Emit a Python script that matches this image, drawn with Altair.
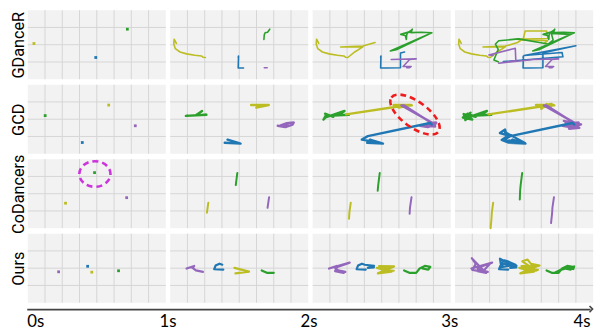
import json
import pandas as pd
import altair as alt

# ---------------- data (grid units inside a panel: x 0..8, y 0..4 measured downward) ----
methods = ["GDanceR", "GCD", "CoDancers", "Ours"]
dancers = ["blue", "yellow", "green", "purple"]
time_labels = ["0s", "1s", "2s", "3s", "4s"]

# starting positions shown in the first (0s) column
gdancer_start_dancer = ["yellow", "green", "blue"]
gdancer_start_x = [0.36, 5.77, 3.94]
gdancer_start_y = [1.93, 1.10, 2.74]

gcd_start_dancer = ["green", "yellow", "purple", "blue"]
gcd_start_x = [1.01, 4.69, 6.23, 3.16]
gcd_start_y = [1.79, 1.18, 2.38, 3.35]

codancers_start_dancer = ["green", "purple", "yellow"]
codancers_start_x = [3.87, 5.73, 2.19]
codancers_start_y = [0.78, 2.23, 2.55]

ours_start_dancer = ["blue", "yellow", "purple", "green"]
ours_start_x = [3.47, 3.71, 1.79, 5.26]
ours_start_y = [1.89, 2.23, 2.21, 2.15]

# trajectories; *_n = number of points drawn at 1s, 2s, 3s
gdancer_yellow_x = [0.36, 0.23, 0.21, 0.30, 0.57, 0.95, 1.43, 1.81, 1.90, 2.04, 2.44, 2.91, 1.62, 2.91, 3.62, 3.96, 4.06, 5.30, 5.39, 3.49, 5.35, 5.20]
gdancer_yellow_y = [1.92, 1.68, 1.96, 2.23, 2.42, 2.53, 2.61, 2.65, 2.72, 2.74, 2.42, 2.12, 2.13, 2.08, 1.87, 1.64, 1.20, 1.20, 1.64, 1.68, 1.77, 1.89]
gdancer_yellow_n = [10, 15, 22]
gdancer_green_x = [5.77, 5.64, 5.50, 5.45, 5.43, 5.37, 5.10, 5.55, 5.77, 5.70, 6.30, 6.91, 4.50, 4.91, 6.72, 5.58, 5.68, 5.39, 3.68, 2.53, 2.34, 2.50, 2.25, 2.50]
gdancer_green_y = [1.10, 1.28, 1.31, 1.43, 1.70, 1.47, 1.40, 1.27, 1.12, 1.30, 1.28, 1.31, 2.36, 2.27, 1.40, 1.35, 1.73, 1.96, 1.66, 1.77, 1.96, 2.27, 2.88, 2.99]
gdancer_green_n = [5, 15, 24]
gdancer_blue_x = [3.94, 3.96, 3.94, 4.25, 5.09, 5.09, 5.33, 7.00, 4.00, 6.20, 6.25, 2.80]
gdancer_blue_y = [2.74, 2.65, 3.35, 3.35, 3.33, 2.48, 2.42, 2.06, 2.62, 2.45, 2.70, 2.98]
gdancer_blue_n = [4, 7, 12]
gdancer_purple_x = [5.45, 5.62, 5.71, 5.24, 5.62, 6.00, 4.55, 2.53, 3.52, 3.49, 1.96, 2.20]
gdancer_purple_y = [3.33, 3.33, 3.26, 3.26, 2.86, 2.82, 2.86, 3.07, 2.92, 2.21, 2.59, 2.62]
gdancer_purple_n = [2, 7, 12]

gcd_green_x = [1.01, 0.91, 2.10, 1.49, 1.85, 0.75, 0.63, 0.80, 0.72, 1.20, 0.50, 0.60, 0.90, 0.45, 1.00, 0.70]
gcd_green_y = [1.79, 1.81, 1.74, 1.77, 1.52, 1.90, 2.02, 1.72, 1.68, 1.86, 1.70, 2.05, 1.62, 1.90, 2.02, 1.75]
gcd_green_n = [5, 10, 16]
gcd_yellow_x = [4.69, 5.71, 4.99, 5.24, 1.94, 5.20, 5.75, 5.10, 5.00, 5.30, 5.50, 5.60, 4.80]
gcd_yellow_y = [1.18, 1.18, 1.33, 1.22, 1.72, 1.23, 1.20, 1.26, 1.40, 1.12, 1.38, 1.12, 1.25]
gcd_yellow_n = [4, 8, 13]
gcd_purple_x = [6.23, 6.67, 7.09, 7.16, 6.76, 6.40, 6.86, 7.00, 5.15, 5.30, 7.05, 6.50, 7.10, 6.80, 6.30, 7.30, 6.60, 7.20, 6.40]
gcd_purple_y = [2.38, 2.46, 2.32, 2.19, 2.23, 2.36, 2.36, 2.25, 1.20, 1.20, 2.32, 2.36, 2.42, 2.20, 2.10, 2.30, 2.55, 2.50, 2.20]
gcd_purple_n = [7, 14, 19]
gcd_blue_x = [3.16, 4.08, 3.32, 4.00, 2.85, 3.20, 6.80, 6.90, 6.80, 3.20, 2.60, 2.90, 3.00, 2.70, 3.10, 4.05, 2.90]
gcd_blue_y = [3.36, 3.41, 3.18, 3.38, 3.18, 2.98, 2.22, 2.30, 2.22, 2.98, 2.80, 2.60, 3.00, 3.20, 3.35, 3.38, 2.75]
gcd_blue_n = [4, 8, 17]

codancers_green_x = [3.89, 3.80, 3.77, 3.75]
codancers_green_y = [0.80, 1.50, 1.83, 2.34]
codancers_green_n = [2, 3, 4]
codancers_yellow_x = [2.21, 2.13, 2.11, 2.06]
codancers_yellow_y = [2.52, 3.10, 3.45, 4.00]
codancers_yellow_n = [2, 3, 4]
codancers_purple_x = [5.73, 5.64, 5.62, 5.56]
codancers_purple_y = [2.20, 2.82, 3.16, 3.70]
codancers_purple_n = [2, 3, 4]

ours_purple_x = [1.90, 1.49, 1.30, 1.39, 0.95, 2.15, 1.40, 1.30, 1.80, 0.97, 1.20, 1.00, 1.60, 2.05]
ours_purple_y = [2.21, 2.13, 1.98, 1.87, 2.02, 1.68, 1.95, 2.17, 2.28, 1.42, 1.75, 2.10, 2.20, 1.72]
ours_purple_n = [5, 9, 14]
ours_blue_x = [3.08, 2.55, 2.63, 2.86, 3.02, 3.56, 3.20, 3.55, 2.60, 2.65, 2.85, 3.10, 3.50, 2.60]
ours_blue_y = [2.08, 2.06, 1.85, 1.74, 1.80, 1.87, 1.98, 1.96, 1.45, 1.75, 1.55, 1.62, 1.80, 1.95]
ours_blue_n = [5, 8, 14]
ours_yellow_x = [3.72, 4.57, 3.78, 4.72, 3.85, 4.35, 4.00, 4.70, 3.90, 4.20, 4.40, 4.90, 3.95, 4.80]
ours_yellow_y = [1.98, 2.20, 2.30, 1.90, 1.88, 2.00, 2.10, 2.15, 1.60, 1.50, 1.75, 1.85, 2.00, 2.10]
ours_yellow_n = [3, 8, 14]
ours_green_x = [5.30, 5.60, 6.00, 6.20, 6.50, 6.82, 6.70, 6.35, 6.60, 6.90, 6.85, 6.50, 6.10, 5.80]
ours_green_y = [2.13, 2.27, 2.27, 2.02, 1.87, 1.92, 2.08, 2.02, 1.95, 1.90, 2.05, 2.00, 2.10, 2.25]
ours_green_n = [3, 8, 14]

# highlighted regions (dashed ellipses)
highlight_method = ["GCD", "CoDancers"]
highlight_col = [2, 0]
highlight_x = [5.93, 3.89]
highlight_y = [1.73, 0.86]

# ---------------- styles / layout ----------------
dancer_colors = ["#1f77b4", "#bcbd22", "#2ca02c", "#9467bd"]
line_width = {"GDanceR": 1.6, "GCD": 2.4, "CoDancers": 2.0, "Ours": 2.2}
PX = 17.5              # pixels per grid unit
COL_PITCH = 8.25
ROW_PITCH = 4.314
X_MIN, X_MAX = -0.057, 32.571
Y_MIN, Y_MAX = -0.371, 3 * ROW_PITCH + 4
W = round((X_MAX - X_MIN) * PX)
H = round((Y_MAX - Y_MIN) * PX)

starts = {
    "GDanceR": (gdancer_start_dancer, gdancer_start_x, gdancer_start_y),
    "GCD": (gcd_start_dancer, gcd_start_x, gcd_start_y),
    "CoDancers": (codancers_start_dancer, codancers_start_x, codancers_start_y),
    "Ours": (ours_start_dancer, ours_start_x, ours_start_y),
}
tracks = {
    ("GDanceR", "yellow"): (gdancer_yellow_x, gdancer_yellow_y, gdancer_yellow_n),
    ("GDanceR", "green"): (gdancer_green_x, gdancer_green_y, gdancer_green_n),
    ("GDanceR", "blue"): (gdancer_blue_x, gdancer_blue_y, gdancer_blue_n),
    ("GDanceR", "purple"): (gdancer_purple_x, gdancer_purple_y, gdancer_purple_n),
    ("GCD", "green"): (gcd_green_x, gcd_green_y, gcd_green_n),
    ("GCD", "yellow"): (gcd_yellow_x, gcd_yellow_y, gcd_yellow_n),
    ("GCD", "purple"): (gcd_purple_x, gcd_purple_y, gcd_purple_n),
    ("GCD", "blue"): (gcd_blue_x, gcd_blue_y, gcd_blue_n),
    ("CoDancers", "green"): (codancers_green_x, codancers_green_y, codancers_green_n),
    ("CoDancers", "yellow"): (codancers_yellow_x, codancers_yellow_y, codancers_yellow_n),
    ("CoDancers", "purple"): (codancers_purple_x, codancers_purple_y, codancers_purple_n),
    ("Ours", "purple"): (ours_purple_x, ours_purple_y, ours_purple_n),
    ("Ours", "blue"): (ours_blue_x, ours_blue_y, ours_blue_n),
    ("Ours", "yellow"): (ours_yellow_x, ours_yellow_y, ours_yellow_n),
    ("Ours", "green"): (ours_green_x, ours_green_y, ours_green_n),
}


def origin(r, c):
    return c * COL_PITCH, (3 - r) * ROW_PITCH


panel_rows, grid_rows, dot_rows, line_rows = [], [], [], []
for r, m in enumerate(methods):
    for c in range(4):
        x0, y0 = origin(r, c)
        panel_rows.append({"X": x0, "X2": x0 + 8, "Y": y0, "Y2": y0 + 4})
        for k in range(1, 8):
            grid_rows.append({"X": x0 + k, "X2": x0 + k, "Y": y0, "Y2": y0 + 4})
        for k in range(1, 4):
            grid_rows.append({"X": x0, "X2": x0 + 8, "Y": y0 + k, "Y2": y0 + k})
    x0, y0 = origin(r, 0)
    for d, gx, gy in zip(*starts[m]):
        dot_rows.append({"X": x0 + gx, "Y": y0 + 4 - gy, "dancer": d})
    for (mm, d), (xs, ys, ns) in tracks.items():
        if mm != m:
            continue
        for c, n in zip([1, 2, 3], ns):
            x0, y0 = origin(r, c)
            for i in range(n):
                line_rows.append({"X": x0 + xs[i], "Y": y0 + 4 - ys[i], "dancer": d,
                                  "key": f"{m}-{d}-{c}", "ord": i, "w": line_width[m]})

hl_rows = []
for m, c, gx, gy in zip(highlight_method, highlight_col, highlight_x, highlight_y):
    r = methods.index(m)
    x0, y0 = origin(r, c)
    hl_rows.append({"X": x0 + gx, "Y": y0 + 4 - gy, "method": m})

df_panel = pd.DataFrame(panel_rows)
df_grid = pd.DataFrame(grid_rows)
df_dots = pd.DataFrame(dot_rows)
df_lines = pd.DataFrame(line_rows)
df_hl = pd.DataFrame(hl_rows)
df_arrow = pd.DataFrame([{"X": X_MAX + 2.6 / PX, "Y": Y_MIN}])

STEP = (X_MAX - X_MIN) / 4
x_values = [round(X_MIN + i * STEP, 6) for i in range(4)] + [X_MAX]
y_values = [round((3 - r) * ROW_PITCH + 2, 6) for r in range(4)]

xscale = alt.Scale(domain=[X_MIN, X_MAX], nice=False, zero=False)
yscale = alt.Scale(domain=[Y_MIN, Y_MAX], nice=False, zero=False)
xaxis = alt.Axis(
    values=x_values, title=None, grid=False, ticks=False, tickSize=0,
    domainColor="#444444", domainWidth=2,
    labelExpr=f"{json.dumps(time_labels)}[round((datum.value - ({X_MIN})) / {STEP})]",
    labelFlush=True, labelFontSize=17, labelPadding=5, labelColor="#000000",
    labelFont="Lato", labelBaseline="top",
)
yaxis = alt.Axis(
    values=y_values, title=None, grid=False, ticks=False, tickSize=0, domain=False,
    labelExpr=f"{json.dumps(methods[::-1])}[round((datum.value - 2) / {ROW_PITCH})]",
    labelAngle=270, labelAlign="center", labelBaseline="alphabetic",
    labelFontSize=16.5, labelPadding=3, labelColor="#000000", labelFont="Roboto",
)


def X(f="X"):
    return alt.X(f"{f}:Q", scale=xscale, axis=xaxis)


def Y(f="Y"):
    return alt.Y(f"{f}:Q", scale=yscale, axis=yaxis)


color = alt.Color("dancer:N", scale=alt.Scale(domain=dancers, range=dancer_colors), legend=None)

panels = alt.Chart(df_panel).mark_rect(color="#f2f2f2").encode(
    x=X(), x2="X2:Q", y=Y(), y2="Y2:Q")
grid = alt.Chart(df_grid).mark_rule(color="#d5d5d5", strokeWidth=1).encode(
    x=X(), x2="X2:Q", y=Y(), y2="Y2:Q")
lines = alt.Chart(df_lines).mark_line(strokeCap="round", strokeJoin="round").encode(
    x=X(), y=Y(), color=color, detail="key:N", order="ord:Q",
    size=alt.Size("w:Q", scale=None))
dots = alt.Chart(df_dots).mark_square(size=8, opacity=1).encode(x=X(), y=Y(), color=color)

red = alt.Chart(df_hl).transform_filter("datum.method == 'GCD'").mark_point(
    shape="M-1,0A1,0.44,0,1,1,1,0A1,0.44,0,1,1,-1,0Z", filled=False,
    color="#ee1c1c", stroke="#ee1c1c", strokeWidth=2.6, strokeDash=[6, 4],
    size=3481, angle=36, opacity=1,
).encode(x=X(), y=Y())
magenta = alt.Chart(df_hl).transform_filter("datum.method == 'CoDancers'").mark_point(
    shape="M-1,0A1,0.82,0,1,1,1,0A1,0.82,0,1,1,-1,0Z", filled=False,
    color="#cc33dd", stroke="#cc33dd", strokeWidth=2.6, strokeDash=[6, 4],
    size=1000, opacity=1,
).encode(x=X(), y=Y())
arrow = alt.Chart(df_arrow).mark_point(
    shape="M-1,-1L0,0L-1,1", filled=False, color="#444444", stroke="#444444",
    strokeWidth=1.5, size=40, opacity=1,
).encode(x=X(), y=Y())

chart = alt.layer(panels, grid, lines, dots, red, magenta, arrow).properties(
    width=W, height=H, background="white",
    padding={"left": 19, "top": 0, "right": 5, "bottom": 24},
    autosize=alt.AutoSizeParams(type="none"),
).configure_view(strokeWidth=0)

chart.save("out.html", embed_options={"renderer": "svg", "actions": False})
